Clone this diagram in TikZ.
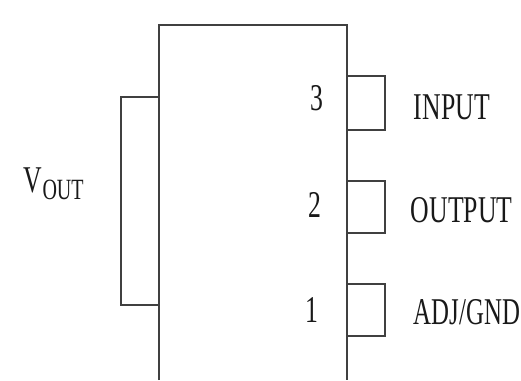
\documentclass[tikz,border=0pt]{standalone}
\usepackage{fontspec}
\setmainfont{Liberation Serif}
\newcommand{\stretched}[2][1.43]{\scalebox{#1}[2.1]{\fontsize{18}{20}\selectfont #2}}
\begin{document}
\begin{tikzpicture}[x=1pt,y=-1pt,line width=1.9pt,
 lbl/.style={inner sep=0pt,text=black!90},
 pin/.style={draw=black!75,line join=miter}]
\useasboundingbox (0,0) rectangle (521,380);
\fill[white] (0,0) rectangle (521,380);
\draw[pin] (159,380) -- (159,25) -- (347,25) -- (347,380);
\draw[pin] (159,97) -- (121,97) -- (121,305) -- (159,305);
\draw[pin] (347,76) -- (385,76) -- (385,130) -- (347,130);
\draw[pin] (347,181) -- (385,181) -- (385,233) -- (347,233);
\draw[pin] (347,284) -- (385,284) -- (385,336) -- (347,336);
\node[lbl] (n3) at (317,98) {\stretched{3}};
\node[lbl] (n2) at (315,205) {\stretched{2}};
\node[lbl] (n1) at (312,310) {\stretched{1}};
\node[lbl,anchor=west] (in) at (413,107) {\stretched{INPUT}};
\node[lbl,anchor=west] (out) at (410,210) {\stretched{OUTPUT}};
\node[lbl,anchor=west] (adj) at (413,312) {\stretched[1.38]{ADJ/GND}};
\node[lbl,anchor=west] (v) at (23,184) {\stretched{V\raisebox{-0.38ex}{\fontsize{14}{14}\selectfont OUT}}};
\end{tikzpicture}
\end{document}
